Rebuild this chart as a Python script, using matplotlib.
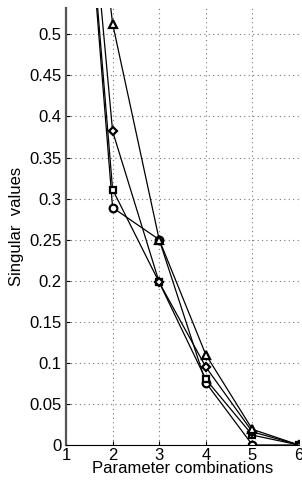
import numpy as np
import matplotlib.pyplot as plt

plt.rcParams['font.family'] = ['Liberation Sans', 'DejaVu Sans']

combos = [1, 2, 3, 4, 5, 6]
sv_triangle = [1.0, 0.513, 0.250, 0.110, 0.019, 0.0]
sv_diamond = [1.0, 0.382, 0.198, 0.095, 0.016, 0.0]
sv_square = [1.0, 0.311, 0.198, 0.080, 0.012, 0.0]
sv_circle = [1.0, 0.289, 0.250, 0.076, 0.0, 0.0]

yticks = np.round(np.arange(0, 0.51, 0.05), 2)
yticklabels = ['0', '0.05', '0.1', '0.15', '0.2', '0.25', '0.3', '0.35', '0.4', '0.45', '0.5']

fig = plt.figure(figsize=(3.02, 4.87), dpi=100)
ax = fig.add_axes([66/302, 1-445/487, (299-66)/302, (445-8)/487])

style = dict(color='black', lw=0.9, mfc='white', mec='black', mew=1.6, ms=5.5, clip_on=True)
ax.plot(combos, sv_circle, marker='o', **style)
ax.plot(combos, sv_square, marker='s', **dict(style, ms=5))
ax.plot(combos, sv_diamond, marker='D', **dict(style, ms=4.5))
ax.plot(combos, sv_triangle, marker='^', **dict(style, ms=6))

ax.set_xlim(1, 6)
ax.set_ylim(0, 0.532)
ax.set_xticks(combos)
ax.set_yticks(yticks)
ax.set_yticklabels(yticklabels)
ax.grid(True, color='#777777', linestyle=(0, (1, 3)), linewidth=0.8)
ax.tick_params(direction='in', labelsize=12, pad=3, length=3)
ax.tick_params(axis='x', pad=2)

ax.spines['top'].set_visible(False)
ax.spines['right'].set_visible(False)
ax.spines['left'].set_color('#555555')
ax.spines['left'].set_linewidth(1.6)

ax.set_xlabel('Parameter combinations', fontsize=12, labelpad=-1)
ax.set_ylabel('Singular  values', fontsize=12, labelpad=4)

fig.savefig('out.png', dpi=100)
